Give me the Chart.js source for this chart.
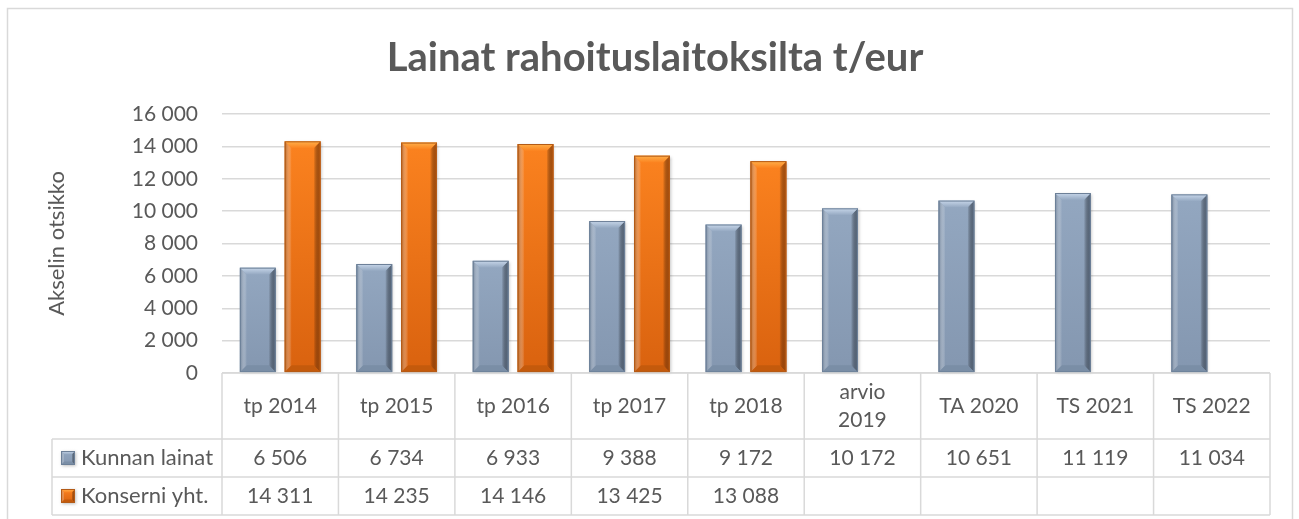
<!DOCTYPE html>
<html>
<head>
<meta charset="utf-8">
<script src="https://cdn.jsdelivr.net/npm/chart.js@4/dist/chart.umd.min.js"></script>
<style>
html,body{margin:0;padding:0;background:#fff;}
#wrap{position:relative;width:1299px;height:519px;}
</style>
</head>
<body>
<div id="wrap"><canvas id="c" width="1299" height="519"></canvas></div>
<script>
const categories = ['tp 2014','tp 2015','tp 2016','tp 2017','tp 2018',['arvio','2019'],'TA 2020','TS 2021','TS 2022'];
const seriesNames = ['Kunnan lainat','Konserni yht.'];
const kunnanLainat = [6506,6734,6933,9388,9172,10172,10651,11119,11034];
const konserniYht = [14311,14235,14146,13425,13088,null,null,null,null];
const yTicks = [0,2000,4000,6000,8000,10000,12000,14000,16000];

const FONT = 'Lato, "Open Sans", sans-serif';
const TXT = '#595959';
const LINE = '#d9d9d9';

function fmt(v){ return v==null ? '' : String(v).replace(/\B(?=(\d{3})+(?!\d))/g,' '); }

const styles = [
  {base:'#8b9fb8', light:'#c8d7ea', dark:'#5d6e84', bottom:'#7a8ea6', edge:'#6d8098', top:'#93a7c0', bot:'#8497b0'},
  {base:'#f77a1a', light:'#ffb04a', dark:'#b9550d', bottom:'#c45a0c', edge:'#b35b17', top:'#fb821f', bot:'#d9620f'}
];

function drawBevelBar(ctx, left, right, top, base, st){
  const w = right-left, h = base-top;
  if (h <= 0) return;
  const b = Math.min(7, w/4, h/3);
  ctx.save();
  ctx.shadowColor = 'rgba(0,0,0,0.25)';
  ctx.shadowBlur = 3; ctx.shadowOffsetX = 1; ctx.shadowOffsetY = 1;
  const g = ctx.createLinearGradient(0, top, 0, base);
  g.addColorStop(0, st.top); g.addColorStop(1, st.bot);
  ctx.fillStyle = g;
  ctx.fillRect(left, top, w, h);
  ctx.restore();
  ctx.save();
  let gl = ctx.createLinearGradient(left,0,left+b,0);
  gl.addColorStop(0, st.edge); gl.addColorStop(1, 'rgba(255,255,255,0)');
  ctx.fillStyle = gl;
  ctx.beginPath(); ctx.moveTo(left,top); ctx.lineTo(left+b,top+b); ctx.lineTo(left+b,base-b); ctx.lineTo(left,base); ctx.closePath(); ctx.fill();
  let gr = ctx.createLinearGradient(right-b,0,right,0);
  gr.addColorStop(0, 'rgba(0,0,0,0)'); gr.addColorStop(1, st.dark);
  ctx.fillStyle = gr;
  ctx.beginPath(); ctx.moveTo(right,top); ctx.lineTo(right-b,top+b); ctx.lineTo(right-b,base-b); ctx.lineTo(right,base); ctx.closePath(); ctx.fill();
  let gt = ctx.createLinearGradient(0,top,0,top+b);
  gt.addColorStop(0, st.light); gt.addColorStop(1, st.top);
  ctx.fillStyle = gt;
  ctx.beginPath(); ctx.moveTo(left,top); ctx.lineTo(right,top); ctx.lineTo(right-b,top+b); ctx.lineTo(left+b,top+b); ctx.closePath(); ctx.fill();
  ctx.fillStyle = st.bottom;
  ctx.beginPath(); ctx.moveTo(left,base); ctx.lineTo(right,base); ctx.lineTo(right-b,base-b); ctx.lineTo(left+b,base-b); ctx.closePath(); ctx.fill();
  ctx.strokeStyle = st.edge; ctx.lineWidth = 1;
  ctx.strokeRect(left+0.5, top+0.5, w-1, h-1);
  ctx.restore();
}

const bevelPlugin = {
  id: 'bevel',
  afterDatasetsDraw(chart){
    const ctx = chart.ctx;
    chart.data.datasets.forEach((ds, i) => {
      const meta = chart.getDatasetMeta(i);
      meta.data.forEach((bar, j) => {
        if (ds.data[j] == null) return;
        const p = bar.getProps(['x','y','base','width'], true);
        drawBevelBar(ctx, p.x - p.width/2, p.x + p.width/2, p.y, p.base, styles[i]);
      });
    });
  }
};

const framePlugin = {
  id: 'frame',
  beforeDraw(chart){
    const ctx = chart.ctx;
    ctx.save();
    ctx.fillStyle = '#fff';
    ctx.fillRect(0,0,chart.width,chart.height);
    ctx.strokeStyle = LINE; ctx.lineWidth = 1.5;
    ctx.strokeRect(7.5, 8.5, 1285, 600);
    ctx.restore();
  }
};

const tablePlugin = {
  id: 'dataTable',
  afterDraw(chart){
    const ctx = chart.ctx;
    const xs = chart.scales.x, ca = chart.chartArea;
    const n = categories.length;
    const cw = (ca.right - ca.left)/n;
    const top = ca.bottom, r1 = top + 66, r2 = r1 + 38, r3 = r2 + 38;
    const legLeft = 52;
    ctx.save();
    ctx.strokeStyle = LINE; ctx.lineWidth = 1.5;
    ctx.beginPath();
    ctx.moveTo(ca.left, top); ctx.lineTo(ca.right, top);
    [r1, r2, r3].forEach(y => { ctx.moveTo(legLeft, y); ctx.lineTo(ca.right, y); });
    for (let i = 0; i <= n; i++) {
      const x = ca.left + i*cw;
      ctx.moveTo(x, top); ctx.lineTo(x, r3);
    }
    ctx.moveTo(legLeft, r1); ctx.lineTo(legLeft, r3);
    ctx.stroke();

    ctx.fillStyle = TXT;
    ctx.font = '21px ' + FONT;
    ctx.textAlign = 'center'; ctx.textBaseline = 'middle';
    categories.forEach((c, i) => {
      const x = xs.getPixelForValue(i);
      if (Array.isArray(c)) {
        ctx.fillText(c[0], x, top + 19);
        ctx.fillText(c[1], x, top + 47);
      } else {
        ctx.fillText(c, x, (top + r1)/2);
      }
    });
    const rows = [kunnanLainat, konserniYht];
    const ys = [(r1+r2)/2, (r2+r3)/2];
    rows.forEach((row, ri) => {
      row.forEach((v, i) => {
        ctx.fillText(fmt(v), xs.getPixelForValue(i), ys[ri]);
      });
      const kx = 61, ky = ys[ri] - 7, ks = 14;
      drawBevelBar(ctx, kx, kx+ks, ky, ky+ks, styles[ri]);
      ctx.textAlign = 'left';
      ctx.fillStyle = TXT;
      ctx.font = '22px ' + FONT;
      ctx.fillText(seriesNames[ri], 81, ys[ri]);
      ctx.font = '21px ' + FONT;
      ctx.textAlign = 'center';
    });
    ctx.restore();
  }
};

new Chart(document.getElementById('c'), {
  type: 'bar',
  data: {
    labels: categories,
    datasets: [
      {label: seriesNames[0], data: kunnanLainat, backgroundColor: 'rgba(0,0,0,0)', borderWidth: 0},
      {label: seriesNames[1], data: konserniYht, backgroundColor: 'rgba(0,0,0,0)', borderWidth: 0}
    ]
  },
  options: {
    responsive: false,
    animation: false,
    events: [],
    layout: {padding: {left: 40, right: 29, top: 10, bottom: 146}},
    datasets: {bar: {barPercentage: 0.8, categoryPercentage: 0.77}},
    plugins: {
      legend: {display: false},
      tooltip: {enabled: false},
      title: {
        display: true,
        text: 'Lainat rahoituslaitoksilta t/eur',
        color: TXT,
        font: {family: FONT, size: 40, weight: 'bold', lineHeight: 1.2},
        padding: {top: 24, bottom: 32}
      }
    },
    scales: {
      x: {display: false},
      y: {
        min: 0, max: 16000,
        afterBuildTicks(scale){ scale.ticks = yTicks.map(v => ({value: v})); },
        afterFit(scale){ scale.width = 182; },
        ticks: {color: TXT, font: {family: FONT, size: 21}, padding: 24, callback: v => fmt(v)},
        grid: {color: LINE, lineWidth: 1.5, drawTicks: false},
        border: {display: false},
        title: {display: true, text: 'Akselin otsikko', color: TXT, font: {family: FONT, size: 22}, padding: {top: 4, bottom: 0}}
      }
    }
  },
  plugins: [framePlugin, bevelPlugin, tablePlugin]
});
</script>
</body>
</html>
